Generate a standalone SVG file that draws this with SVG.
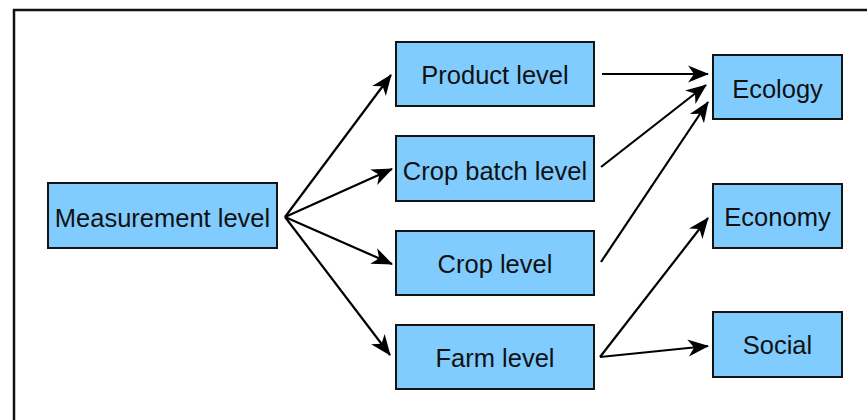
<svg xmlns="http://www.w3.org/2000/svg" width="867" height="420" viewBox="0 0 867 420">
  <style>
    .box { fill: #80ccff; stroke: #141414; stroke-width: 2; }
    .lbl { font-family: "Liberation Sans", Arial, sans-serif; font-size: 25.5px; fill: #111; text-anchor: middle; }
    .edge { stroke: #000; stroke-width: 2.2; fill: none; marker-end: url(#arrow); }
  </style>
  <defs>
    <marker id="arrow" viewBox="-22 -11 24 22" refX="0" refY="0" markerWidth="24" markerHeight="22" markerUnits="userSpaceOnUse" orient="auto">
      <path d="M1,0 L-20,-8.5 L-14,0 L-20,8.5 Z" fill="#000"/>
    </marker>
  </defs>

  <rect width="867" height="420" fill="#fff"/>
  <!-- outer frame -->
  <rect x="14" y="10" width="900" height="500" fill="none" stroke="#111" stroke-width="2.5"/>

  <g id="connectors">
    <line class="edge" x1="285" y1="217" x2="391" y2="75"/>
    <line class="edge" x1="285" y1="217" x2="392" y2="169"/>
    <line class="edge" x1="285" y1="217" x2="392" y2="264"/>
    <line class="edge" x1="285" y1="217" x2="390" y2="355"/>
    <line class="edge" x1="602" y1="74" x2="708" y2="74"/>
    <line class="edge" x1="601" y1="167" x2="706" y2="85"/>
    <line class="edge" x1="601" y1="262" x2="708" y2="102"/>
    <line class="edge" x1="600" y1="357" x2="708" y2="218"/>
    <line class="edge" x1="600" y1="357" x2="708" y2="346"/>
  </g>

  <g id="measurement-level">
    <rect class="box" x="48" y="183" width="229" height="65"/>
    <text class="lbl" x="162.5" y="226.5">Measurement level</text>
  </g>
  <g id="product-level">
    <rect class="box" x="396" y="42" width="198" height="64"/>
    <text class="lbl" x="495" y="83.5">Product level</text>
  </g>
  <g id="crop-batch-level">
    <rect class="box" x="396" y="136" width="198" height="65"/>
    <text class="lbl" x="495" y="179.5">Crop batch level</text>
  </g>
  <g id="crop-level">
    <rect class="box" x="396" y="231" width="198" height="64"/>
    <text class="lbl" x="495" y="273">Crop level</text>
  </g>
  <g id="farm-level">
    <rect class="box" x="396" y="325" width="198" height="64"/>
    <text class="lbl" x="495" y="367">Farm level</text>
  </g>
  <g id="ecology">
    <rect class="box" x="713" y="55" width="129" height="64"/>
    <text class="lbl" x="777.5" y="97.5">Ecology</text>
  </g>
  <g id="economy">
    <rect class="box" x="713" y="184" width="129" height="64"/>
    <text class="lbl" x="777.5" y="226">Economy</text>
  </g>
  <g id="social">
    <rect class="box" x="713" y="312" width="129" height="65"/>
    <text class="lbl" x="777.5" y="354">Social</text>
  </g>
</svg>
